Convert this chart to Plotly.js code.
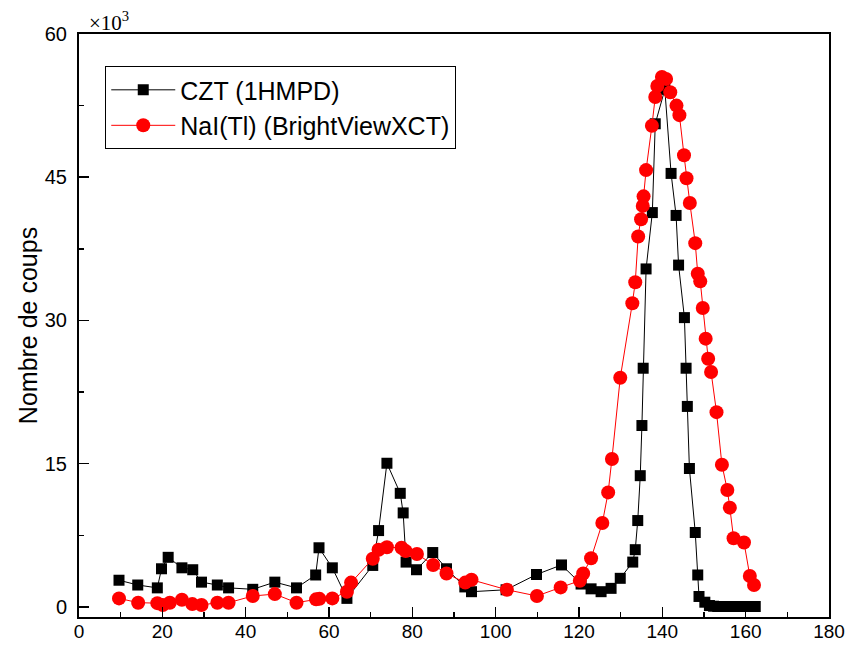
<!DOCTYPE html>
<html>
<head>
<meta charset="utf-8">
<script src="https://cdn.plot.ly/plotly-3.0.1.min.js"></script>
<style>html,body{margin:0;padding:0;background:#fff;}</style>
</head>
<body>
<div id="chart" style="width:851px;height:647px;"></div>
<script>
// Energy channel (x) and counts in thousands (y, axis shows x10^3)
const cztX = [9.6, 14.1, 18.8, 19.8, 21.4, 24.7, 27.3, 29.4, 33.2, 35.9, 41.7, 47.0, 52.2, 56.8, 57.6, 60.8, 64.3,
  70.5, 71.9, 73.9, 77.1, 77.8, 78.5, 81.0, 84.9, 88.2, 92.6, 94.2, 102.5, 109.8, 115.8, 120.5, 122.9, 125.3, 127.7,
  129.9, 132.9, 133.5, 134.1, 134.7, 135.1, 135.4, 136.1, 137.6, 138.3, 140.6, 142.1, 143.3, 143.9, 145.3, 145.7,
  146.0, 146.5, 147.9, 148.5, 148.8, 150.2, 151.3, 152.3, 153.3, 154.3, 155.3, 156.3, 157.3, 158.3, 159.3, 160.3, 161.3, 162.3];
const cztY = [2.8, 2.3, 2.0, 4.0, 5.2, 4.1, 3.9, 2.6, 2.3, 2.0, 1.85, 2.6, 2.0, 3.35, 6.2, 4.1, 0.9,
  4.35, 8.0, 15.05, 11.9, 9.85, 4.7, 3.9, 5.7, 4.0, 2.1, 1.6, 1.8, 3.4, 4.4, 2.4, 1.9, 1.6, 1.95,
  3.0, 4.7, 6.0, 9.05, 13.75, 19.0, 25.0, 35.4, 41.3, 50.6, 54.2, 45.4, 41.0, 35.8, 30.3, 25.0,
  21.0, 14.5, 7.8, 3.35, 1.1, 0.5, 0.15, 0.08, 0.05, 0.05, 0.05, 0.05, 0.05, 0.05, 0.05, 0.05, 0.05, 0.05];

const naiX = [9.6, 14.2, 18.8, 20.1, 21.8, 24.7, 27.2, 29.4, 33.2, 35.9, 41.7, 47.0, 52.2, 56.9, 57.7, 60.8, 64.3, 65.3,
  70.5, 71.9, 73.9, 77.4, 78.4, 81.1, 85.0, 88.2, 92.7, 94.2, 102.7, 109.9, 115.6, 120.2, 121.0, 122.9, 125.6, 127.0, 127.9,
  129.9, 132.8, 133.5, 134.2, 134.9, 135.3, 135.5, 136.1, 137.5, 138.3, 138.8, 139.9, 140.9, 141.9, 143.4, 144.1,
  145.2, 145.8, 146.6, 147.9, 148.5, 149.1, 149.7, 150.4, 151.0, 151.7, 153.0, 154.3, 155.6, 156.2, 157.1, 159.6, 161.0, 162.0];
const naiY = [0.9, 0.45, 0.4, 0.2, 0.45, 0.75, 0.3, 0.2, 0.45, 0.45, 1.15, 1.35, 0.45, 0.8, 0.85, 0.9, 1.6, 2.55,
  5.05, 6.0, 6.25, 6.2, 5.85, 5.55, 4.4, 3.5, 2.55, 2.85, 1.8, 1.15, 2.05, 2.75, 3.5, 5.1, 8.8, 12.0, 15.5,
  24.0, 31.8, 34.0, 38.8, 40.6, 42.0, 43.0, 45.75, 50.4, 53.4, 54.55, 55.5, 55.3, 53.9, 52.5, 51.5,
  47.3, 44.9, 42.3, 38.1, 34.9, 34.1, 31.3, 28.1, 26.0, 24.6, 20.4, 14.9, 12.25, 10.4, 7.2, 6.75, 3.25, 2.3];

const seriesNames = ["CZT (1HMPD)", "NaI(Tl) (BrightViewXCT)"];
const xTicks = [0, 20, 40, 60, 80, 100, 120, 140, 160, 180];
const yTicks = [0, 15, 30, 45, 60];

const traces = [
  {
    x: cztX, y: cztY, name: seriesNames[0], type: "scatter", mode: "lines+markers",
    line: {color: "#000000", width: 1},
    marker: {symbol: "square", size: 11, color: "#000000"}
  },
  {
    x: naiX, y: naiY, name: seriesNames[1], type: "scatter", mode: "lines+markers",
    line: {color: "#ff0000", width: 1},
    marker: {symbol: "circle", size: 14, color: "#ff0000"}
  }
];

const FAM = "Liberation Sans, Arial, sans-serif";

const layout = {
  width: 851, height: 647,
  margin: {l: 79, r: 22, t: 34, b: 30},
  paper_bgcolor: "#fff", plot_bgcolor: "#fff",
  showlegend: true,
  legend: {
    x: 0.035, y: 0.945, xanchor: "left", yanchor: "top",
    bordercolor: "#000", borderwidth: 1, bgcolor: "#fff",
    font: {family: FAM, size: 25, color: "#000"},
    tracegroupgap: 0, itemwidth: 64
  },
  xaxis: {
    range: [0, 180], tickvals: xTicks, ticktext: xTicks.map(String),
    ticks: "inside", ticklen: 10, tickwidth: 1.5, tickcolor: "#000",
    minor: {dtick: 10, ticks: "inside", ticklen: 5, tickwidth: 1.5, tickcolor: "#000"},
    showline: true, linecolor: "#000", linewidth: 2, mirror: true,
    showgrid: false, zeroline: false, tickfont: {family: FAM, size: 19, color: "#000"}, ticklabelstandoff: -4
  },
  yaxis: {
    range: [-1.05, 60], tickvals: yTicks, ticktext: yTicks.map(String),
    ticks: "inside", ticklen: 10, tickwidth: 1.5, tickcolor: "#000",
    minor: {tickvals: [7.5, 22.5, 37.5, 52.5], ticks: "inside", ticklen: 5, tickwidth: 1.5, tickcolor: "#000"},
    showline: true, linecolor: "#000", linewidth: 2, mirror: true,
    showgrid: false, zeroline: false, tickfont: {family: FAM, size: 20, color: "#000"}, ticklabelstandoff: 6,
    title: {text: "Nombre de coups", font: {family: FAM, size: 25, color: "#000"}, standoff: 0}
  },
  annotations: [{
    xref: "paper", yref: "paper", x: 0.01, y: 1.0, xanchor: "left", yanchor: "bottom",
    text: "×10<sup>3</sup>", showarrow: false, yshift: -3,
    font: {family: "Liberation Serif, Times New Roman, serif", size: 21, color: "#000"}
  }]
};

Plotly.newPlot("chart", traces, layout, {displayModeBar: false, staticPlot: true});
</script>
</body>
</html>
